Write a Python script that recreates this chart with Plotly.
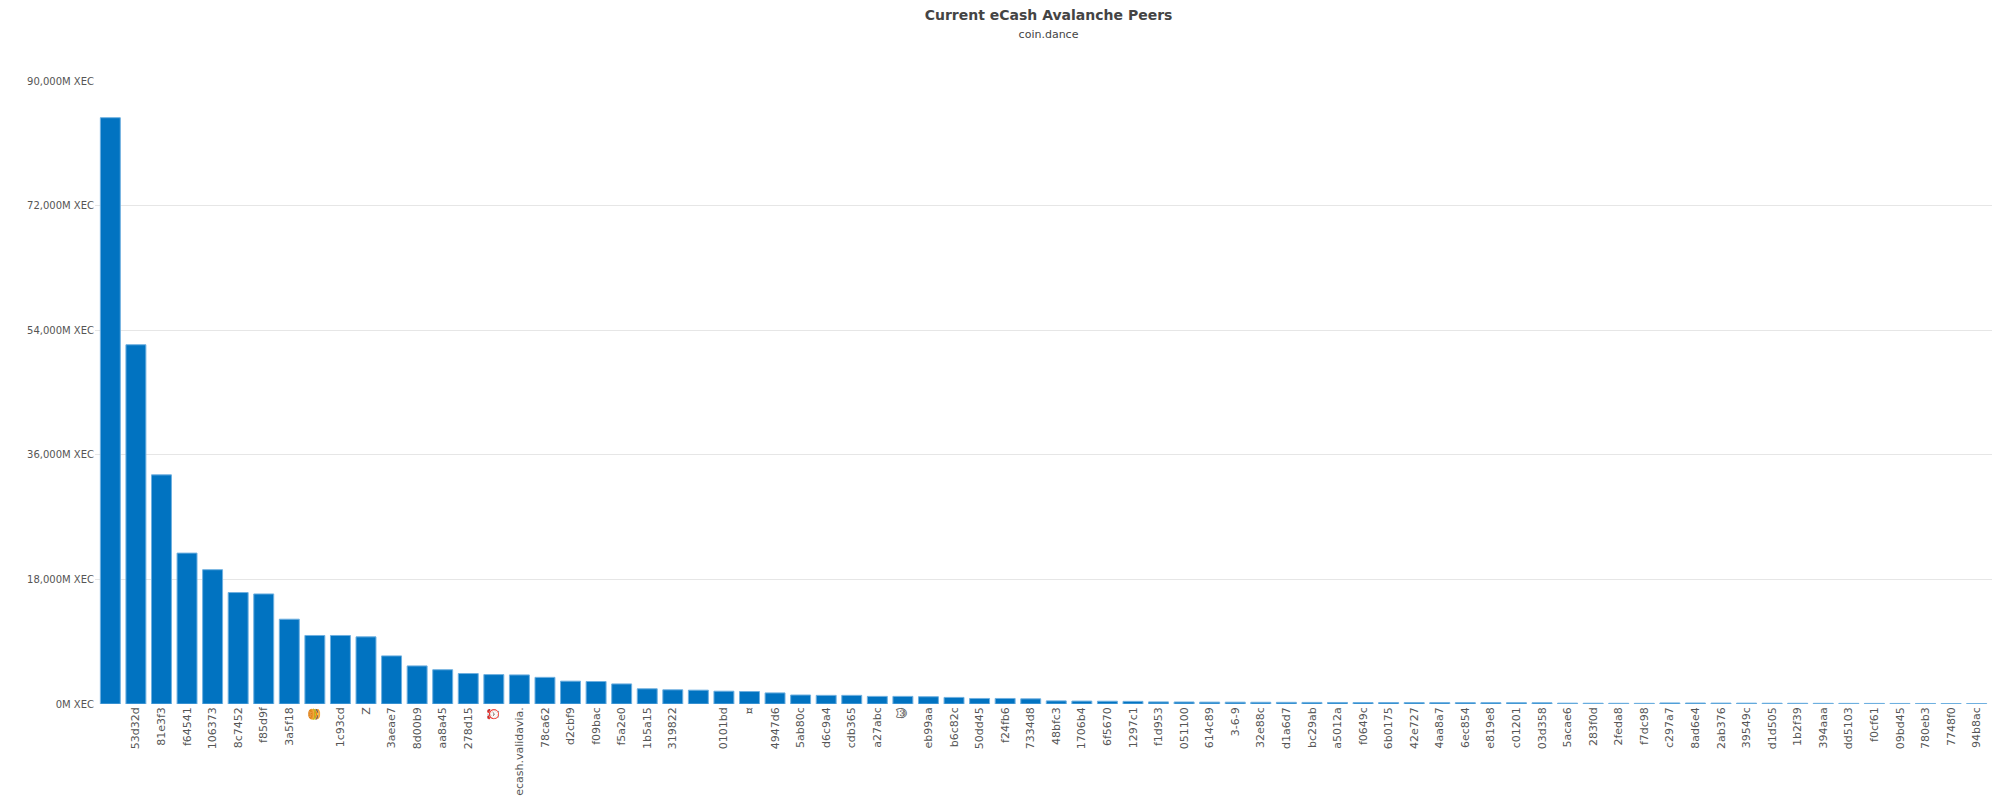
import plotly.graph_objects as go

# peer labels (two peers have no visible name)
peers = ["", "53d32d", "81e3f3", "f64541", "106373", "8c7452", "f85d9f", "3a5f18", "🍔",
         "1c93cd", "Z", "3aeae7", "8d00b9", "aa8a45", "278d15", "⏰", "ecash.validavia.",
         "78ca62", "d2cbf9", "f09bac", "f5a2e0", "1b5a15", "319822", "", "0101bd", "¤",
         "4947d6", "5ab80c", "d6c9a4", "cdb365", "a27abc", "😺", "eb99aa", "b6c82c",
         "50dd45", "f24fb6", "7334d8", "48bfc3", "1706b4", "6f5670", "1297c1", "f1d953",
         "051100", "614c89", "3-6-9", "32e88c", "d1a6d7", "bc29ab", "a5012a", "f0649c",
         "6b0175", "42e727", "4aa8a7", "6ec854", "e819e8", "c01201", "03d358", "5acae6",
         "283f0d", "2feda8", "f7dc98", "c297a7", "8ad6e4", "2ab376", "39549c", "d1d505",
         "1b2f39", "394aaa", "dd5103", "f0cf61", "09bd45", "780eb3", "7748f0", "94b8ac"]

# stake in millions of XEC
stake = [84700, 51900, 33100, 21800, 19400, 16100, 15900, 12250, 9900, 9900, 9700,
         6950, 5500, 4950, 4400, 4250, 4200, 3850, 3300, 3250, 2900, 2200, 2050, 2000,
         1850, 1800, 1600, 1300, 1250, 1250, 1100, 1100, 1050, 950, 800, 800, 750,
         450, 420, 400, 380, 300, 290, 270, 260, 250, 240, 230, 220, 215, 210, 205,
         200, 195, 190, 185, 180, 120, 110, 100, 95, 150, 140, 130, 120, 110, 100,
         95, 90, 85, 80, 75, 70, 65]

idx = list(range(len(peers)))

fig = go.Figure(go.Bar(
    x=idx, y=stake,
    marker=dict(color="#0173c1", line=dict(color="#6fb0e0", width=1)),
    width=0.78,
))

fig.update_layout(
    width=2001, height=800,
    paper_bgcolor="white", plot_bgcolor="white",
    margin=dict(l=87, r=17, t=73, b=100),
    title=dict(text="<b>Current eCash Avalanche Peers</b><br><span style='font-size:11px'>coin.dance</span>",
               x=0.52, xanchor="center", y=0.985, yanchor="top",
               font=dict(family="DejaVu Sans", size=14, color="#444")),
    font=dict(family="DejaVu Sans", size=11, color="#555"),
    showlegend=False,
    bargap=0.2,
)
fig.update_xaxes(tickmode="array", tickvals=idx, ticktext=peers, tickangle=-90,
                 range=[-0.6, len(peers) - 0.4], showgrid=False, ticks="",
                 tickfont=dict(size=11, color="#555"))
fig.update_yaxes(range=[0, 90000], tick0=0, dtick=18000, tickformat=",",
                 ticksuffix="M XEC", gridcolor="#e6e6e6", zeroline=False,
                 tickfont=dict(size=10, color="#555"))

fig.write_html("out.html")
